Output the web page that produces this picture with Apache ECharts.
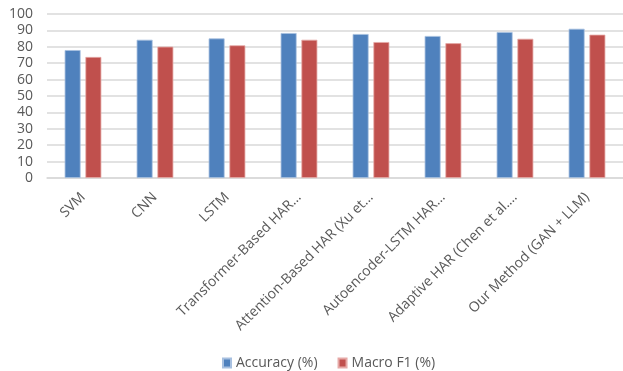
<!DOCTYPE html>
<html>
<head>
<meta charset="utf-8">
<script src="https://cdn.jsdelivr.net/npm/echarts@6/dist/echarts.min.js"></script>
<style>
  html, body { margin: 0; padding: 0; background: #fff; }
  #main { width: 623px; height: 371px; }
</style>
</head>
<body>
<div id="main"></div>
<script>
var methods = ['SVM', 'CNN', 'LSTM', 'Transformer-Based HAR…', 'Attention-Based HAR (Xu et…',
  'Autoencoder-LSTM HAR…', 'Adaptive HAR (Chen et al.…', 'Our Method (GAN + LLM)']
var accuracy = [78, 84.3, 85.1, 88.4, 87.8, 86.6, 89, 91]
var macroF1 = [73.8, 80.1, 80.9, 84.3, 82.9, 82.2, 84.9, 87.4]
var yTicks = [0, 10, 20, 30, 40, 50, 60, 70, 80, 90, 100]

function main() {
  var myChart = echarts.init(document.getElementById('main'))
  var font = '"Open Sans", sans-serif'
  var option = {
    animation: false,
    grid: { left: 47, right: -4, top: 14, bottom: 193 },
    legend: {
      top: 351,
      left: 217,
      itemWidth: 8,
      itemHeight: 9,
      itemGap: 20,
      icon: 'rect',
      textStyle: { color: '#595959', fontSize: 14, fontFamily: font },
      data: ['Accuracy (%)', 'Macro F1 (%)']
    },
    xAxis: {
      type: 'category',
      data: methods,
      axisLine: { lineStyle: { color: '#d9d9d9', width: 1.5 } },
      axisTick: { show: false },
      axisLabel: {
        rotate: 45,
        interval: 0,
        margin: 17,
        color: '#595959',
        fontSize: 14,
        fontFamily: font
      }
    },
    yAxis: {
      type: 'value',
      min: yTicks[0],
      max: yTicks[yTicks.length - 1],
      interval: 10,
      axisLine: { show: false },
      axisTick: { show: false },
      splitLine: { lineStyle: { color: '#d9d9d9', width: 1.5 } },
      axisLabel: { color: '#595959', fontSize: 14, fontFamily: font, margin: 14 }
    },
    series: [
      {
        name: 'Accuracy (%)',
        type: 'bar',
        data: accuracy,
        barGap: '30%',
        barCategoryGap: '49%',
        itemStyle: { color: '#4f81bd', borderColor: '#a7c0e0', borderWidth: 0.8 }
      },
      {
        name: 'Macro F1 (%)',
        type: 'bar',
        data: macroF1,
        itemStyle: { color: '#c0504d', borderColor: '#e6a9a7', borderWidth: 0.8 }
      }
    ]
  }
  myChart.setOption(option)
}

window.onload = main
</script>
</body>
</html>
